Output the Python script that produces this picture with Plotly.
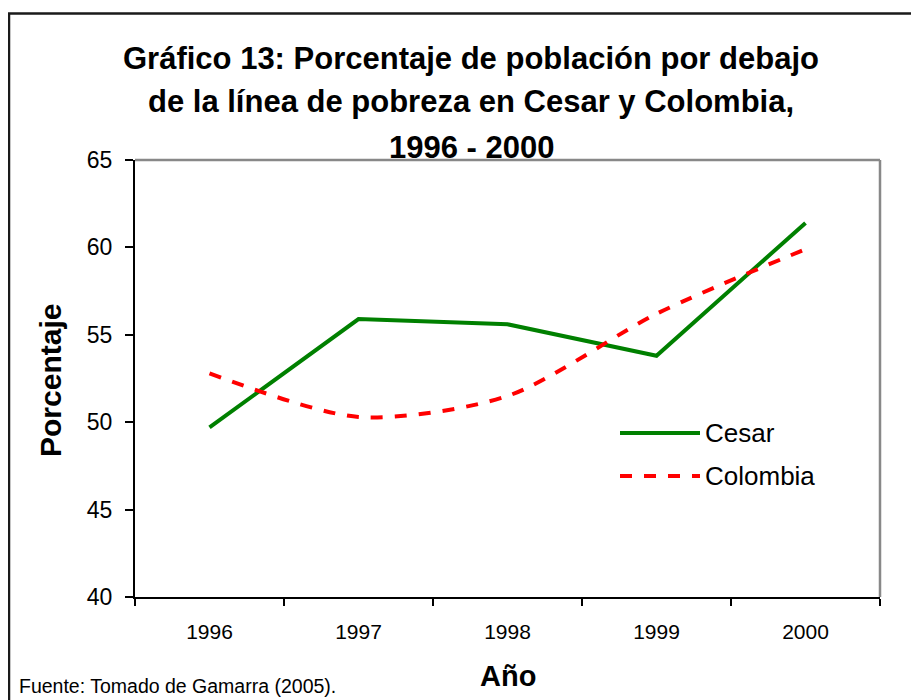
import plotly.graph_objects as go

years = ["1996", "1997", "1998", "1999", "2000"]
cesar = [49.7, 55.9, 55.6, 53.8, 61.4]
colombia = [52.8, 50.3, 51.5, 56.2, 59.9]
y_ticks = [40, 45, 50, 55, 60, 65]

FONT = "Arial, Liberation Sans, sans-serif"

# page offset (browser body margin) compensation
OFF = 8
FW, FH = 919 - OFF, 700 - OFF
# plot area in screen pixels: x 135..880, y 160..597
L, R, T, B = 135, 880, 160, 597
W, H = R - L, B - T


def px(x):
    return (x - L) / W


def py(y):
    return (B - y) / H


fig = go.Figure()
fig.add_trace(go.Scatter(x=years, y=cesar, mode="lines", name="Cesar",
                         line=dict(color="#008000", width=4), showlegend=False))
fig.add_trace(go.Scatter(x=years, y=colombia, mode="lines", name="Colombia",
                         line=dict(color="#FF0000", width=4, dash="dash", shape="spline", smoothing=0.8),
                         showlegend=False))

shapes = [
    dict(type="line", xref="paper", yref="paper", x0=0, x1=1, y0=1, y1=1,
         line=dict(color="#888888", width=2.5)),
    dict(type="line", xref="paper", yref="paper", x0=1, x1=1, y0=0, y1=1,
         line=dict(color="#888888", width=2.5)),
    dict(type="rect", xref="paper", yref="paper", x0=px(9), x1=px(918), y0=py(710), y1=py(13.5),
         line=dict(color="#1a1a1a", width=2.5)),
    dict(type="line", xref="paper", yref="paper", x0=px(620), x1=px(700), y0=py(433), y1=py(433),
         line=dict(color="#008000", width=4)),
    dict(type="line", xref="paper", yref="paper", x0=px(620), x1=px(700), y0=py(476), y1=py(476),
         line=dict(color="#FF0000", width=4, dash="12px,12px")),
]

title_lines = ["Gráfico 13: Porcentaje de población por debajo",
               "de la línea de pobreza en Cesar y Colombia,",
               "1996 - 2000"]
title_y = [58, 101, 147]

annotations = []
for t, yy in zip(title_lines, title_y):
    annotations.append(dict(text="<b>%s</b>" % t, xref="paper", yref="paper", x=px(471), y=py(yy),
                            xanchor="center", yanchor="middle", showarrow=False,
                            font=dict(family=FONT, size=31, color="black")))
annotations += [
    dict(text="<b>Porcentaje</b>", xref="paper", yref="paper", x=px(50), y=py(381), textangle=-90,
         xanchor="center", yanchor="middle", showarrow=False,
         font=dict(family=FONT, size=30, color="black")),
    dict(text="<b>Año</b>", xref="paper", yref="paper", x=px(508), y=py(676),
         xanchor="center", yanchor="middle", showarrow=False,
         font=dict(family=FONT, size=29, color="black")),
    dict(text="Fuente: Tomado de Gamarra (2005).", xref="paper", yref="paper", x=px(17), y=py(686),
         xanchor="left", yanchor="middle", showarrow=False,
         font=dict(family=FONT, size=19.5, color="black")),
    dict(text="Cesar", xref="paper", yref="paper", x=px(703), y=py(433),
         xanchor="left", yanchor="middle", showarrow=False,
         font=dict(family=FONT, size=26, color="black")),
    dict(text="Colombia", xref="paper", yref="paper", x=px(703), y=py(476),
         xanchor="left", yanchor="middle", showarrow=False,
         font=dict(family=FONT, size=26, color="black")),
]

fig.update_layout(
    width=FW, height=FH,
    margin=dict(l=L - OFF, r=919 - R, t=T - OFF, b=700 - B, pad=0),
    paper_bgcolor="white", plot_bgcolor="white",
    font=dict(family=FONT, color="black"),
    shapes=shapes, annotations=annotations,
    xaxis=dict(type="category", categoryarray=years, range=[-0.5, 4.5],
               tickson="boundaries", ticks="outside", ticklen=7, tickwidth=1.5, tickcolor="black",
               showline=True, linecolor="black", linewidth=2, showgrid=False, zeroline=False,
               tickfont=dict(size=21, family=FONT), ticklabelstandoff=15, fixedrange=True),
    yaxis=dict(range=[40, 65], tickvals=y_ticks, ticks="outside", ticklen=8, tickwidth=1.5,
               tickcolor="black", showline=True, linecolor="black", linewidth=2, showgrid=False,
               zeroline=False, tickfont=dict(size=23, family=FONT), ticklabelstandoff=8,
               fixedrange=True),
)

fig.write_html("out.html")
